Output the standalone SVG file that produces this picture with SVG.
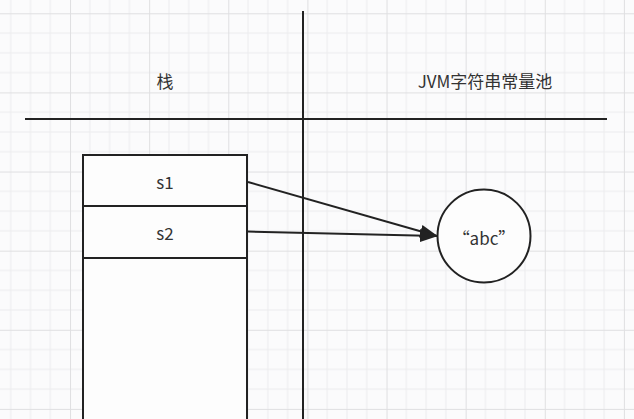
<svg xmlns="http://www.w3.org/2000/svg" width="634" height="419" viewBox="0 0 634 419">
  <defs>
    <pattern id="grid" patternUnits="userSpaceOnUse" x="70.05" y="13.3" width="79.12" height="79.12">
      <g stroke="#ebebed" stroke-width="1" fill="none">
        <line x1="19.78" y1="0" x2="19.78" y2="79.12"/>
        <line x1="39.56" y1="0" x2="39.56" y2="79.12"/>
        <line x1="59.34" y1="0" x2="59.34" y2="79.12"/>
        <line x1="0" y1="19.78" x2="79.12" y2="19.78"/>
        <line x1="0" y1="39.56" x2="79.12" y2="39.56"/>
        <line x1="0" y1="59.34" x2="79.12" y2="59.34"/>
      </g>
      <g stroke="#dfdfe1" stroke-width="1" fill="none">
        <line x1="0.5" y1="0" x2="0.5" y2="79.12"/>
        <line x1="0" y1="0.5" x2="79.12" y2="0.5"/>
      </g>
    </pattern>
    <marker id="arrow" viewBox="0 0 18 14" refX="17" refY="7" markerWidth="18" markerHeight="14" markerUnits="userSpaceOnUse" orient="auto">
      <path d="M0,0.5 L18,7 L0,13.5 z" fill="#222"/>
    </marker>
    <style>
      .axis { stroke: #222; stroke-width: 2; fill: none; }
      .box { stroke: #222; stroke-width: 2; fill: #fdfdfd; }
      .lbl { font-family: "Noto Sans CJK SC", "Noto Sans", "Liberation Sans", sans-serif; font-size: 17px; fill: #333; text-anchor: middle; dominant-baseline: central; }
      .conn { stroke: #222; stroke-width: 2; fill: none; marker-end: url(#arrow); }
    </style>
  </defs>

  <rect x="0" y="0" width="634" height="419" fill="#fbfbfc"/>
  <rect x="0" y="0" width="634" height="419" fill="url(#grid)"/>

  <g id="axes">
    <line class="axis" x1="303" y1="11" x2="303" y2="419"/>
    <line class="axis" x1="25" y1="119" x2="607" y2="119"/>
  </g>

  <g id="header-stack">
    <text class="lbl" x="165" y="80">栈</text>
  </g>
  <g id="header-pool">
    <text class="lbl" x="485" y="80">JVM字符串常量池</text>
  </g>

  <g id="stack">
    <rect class="box" x="83" y="155" width="164" height="280"/>
    <line class="axis" x1="83" y1="206" x2="247" y2="206"/>
    <line class="axis" x1="83" y1="258" x2="247" y2="258"/>
  </g>
  <g id="s1">
    <text class="lbl" x="165" y="181">s1</text>
  </g>
  <g id="s2">
    <text class="lbl" x="165" y="232">s2</text>
  </g>

  <g id="abc">
    <circle class="box" cx="484" cy="236" r="46.5"/>
    <text class="lbl" x="484" y="237">“abc”</text>
  </g>

  <g id="connectors">
    <line class="conn" x1="248" y1="182" x2="437" y2="236"/>
    <line class="conn" x1="248" y1="231.5" x2="437" y2="236"/>
  </g>
</svg>
